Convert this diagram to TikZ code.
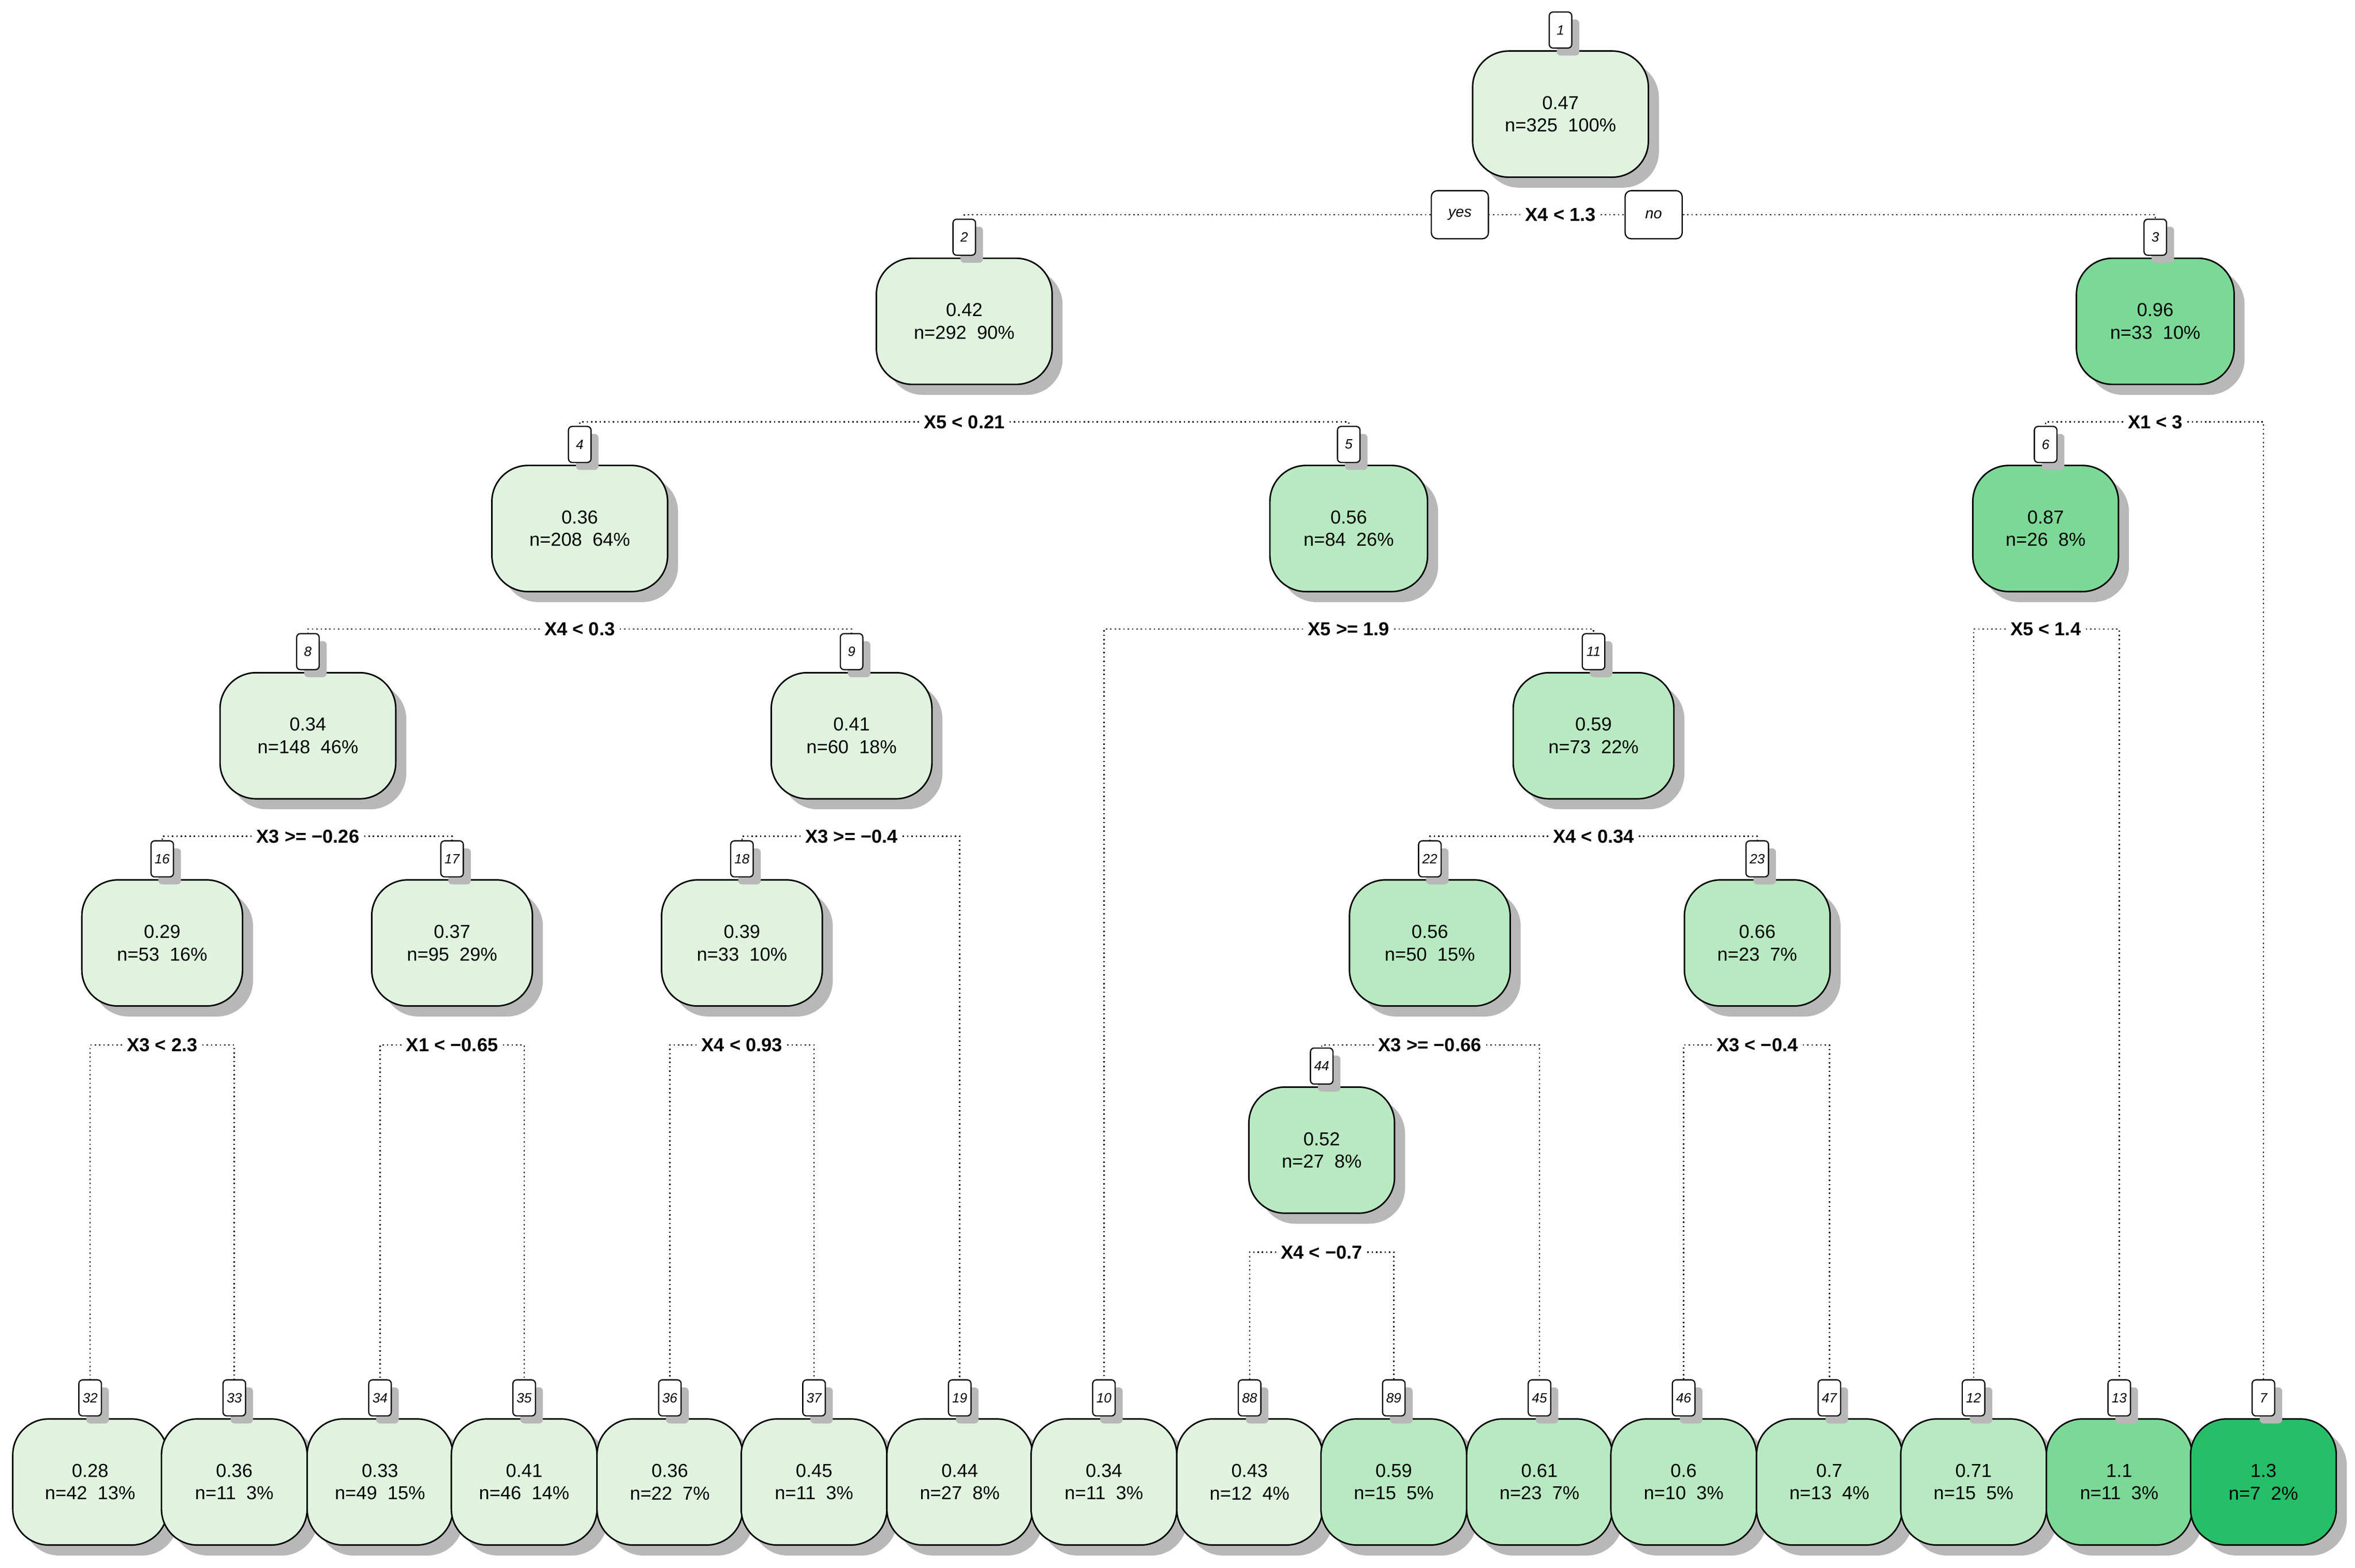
\documentclass[tikz,border=0pt]{standalone}
\usepackage{fontspec}
\setmainfont{Liberation Sans}
\usetikzlibrary{shadows}
\definecolor{ca}{RGB}{223,243,222}
\definecolor{cb}{RGB}{184,233,192}
\definecolor{cc}{RGB}{124,216,150}
\definecolor{cd}{RGB}{38,190,104}
\begin{document}
\begin{tikzpicture}[x=1pt,y=-1pt,
  box/.style={draw=black,line width=1pt,rounded corners=24pt,minimum height=84pt,inner sep=4pt,align=center,font=\fontsize{12.5}{15}\selectfont,drop shadow={shadow xshift=7pt,shadow yshift=-7pt,fill=black!28,opacity=1}},
  tag/.style={draw=black,fill=white,line width=0.8pt,rounded corners=2.5pt,minimum width=15pt,minimum height=24pt,inner sep=1pt,font=\fontsize{9}{10}\itshape\selectfont,drop shadow={shadow xshift=5pt,shadow yshift=-5pt,fill=black!28,opacity=1}},
  yn/.style={draw=black,fill=white,line width=0.8pt,rounded corners=4pt,minimum width=38pt,minimum height=32pt,inner sep=1pt,font=\fontsize{10}{12}\itshape\selectfont},
  split/.style={fill=white,inner sep=3pt,font=\fontsize{12.5}{15}\bfseries\selectfont},
  conn/.style={dotted,line width=0.9pt}]
\useasboundingbox (0,0) rectangle (1568,1044);
\newcommand{\tn}[7]{%
  \node[box,fill=#5,minimum width=#4pt] (n#1) at (#2,#3) {#6\\#7};
  \node[tag] (t#1) at (#2,#3-56) {#1};}
% internal nodes
\tn{1}{1039}{76}{117}{ca}{0.47}{n=325\ \ 100\%}
\tn{2}{642}{214}{117}{ca}{0.42}{n=292\ \ 90\%}
\tn{3}{1435}{214}{105}{cc}{0.96}{n=33\ \ 10\%}
\tn{4}{386}{352}{117}{ca}{0.36}{n=208\ \ 64\%}
\tn{5}{898}{352}{105}{cb}{0.56}{n=84\ \ 26\%}
\tn{6}{1362}{352}{97}{cc}{0.87}{n=26\ \ 8\%}
\tn{8}{205}{490}{117}{ca}{0.34}{n=148\ \ 46\%}
\tn{9}{567}{490}{107}{ca}{0.41}{n=60\ \ 18\%}
\tn{11}{1061}{490}{107}{cb}{0.59}{n=73\ \ 22\%}
\tn{16}{108}{628}{107}{ca}{0.29}{n=53\ \ 16\%}
\tn{17}{301}{628}{107}{ca}{0.37}{n=95\ \ 29\%}
\tn{18}{494}{628}{107}{ca}{0.39}{n=33\ \ 10\%}
\tn{22}{952}{628}{107}{cb}{0.56}{n=50\ \ 15\%}
\tn{23}{1170}{628}{97}{cb}{0.66}{n=23\ \ 7\%}
\tn{44}{880}{766}{97}{cb}{0.52}{n=27\ \ 8\%}
% leaves
\tn{32}{60}{987}{103}{ca}{0.28}{n=42\ \ 13\%}
\tn{33}{156}{987}{97}{ca}{0.36}{n=11\ \ 3\%}
\tn{34}{253}{987}{97}{ca}{0.33}{n=49\ \ 15\%}
\tn{35}{349}{987}{97}{ca}{0.41}{n=46\ \ 14\%}
\tn{36}{446}{987}{97}{ca}{0.36}{n=22\ \ 7\%}
\tn{37}{542}{987}{97}{ca}{0.45}{n=11\ \ 3\%}
\tn{19}{639}{987}{97}{ca}{0.44}{n=27\ \ 8\%}
\tn{10}{735}{987}{97}{ca}{0.34}{n=11\ \ 3\%}
\tn{88}{832}{987}{97}{ca}{0.43}{n=12\ \ 4\%}
\tn{89}{928}{987}{97}{cb}{0.59}{n=15\ \ 5\%}
\tn{45}{1025}{987}{97}{cb}{0.61}{n=23\ \ 7\%}
\tn{46}{1121}{987}{97}{cb}{0.6}{n=10\ \ 3\%}
\tn{47}{1218}{987}{97}{cb}{0.7}{n=13\ \ 4\%}
\tn{12}{1314}{987}{97}{cb}{0.71}{n=15\ \ 5\%}
\tn{13}{1411}{987}{97}{cc}{1.1}{n=11\ \ 3\%}
\tn{7}{1507}{987}{97}{cd}{1.3}{n=7\ \ 2\%}
% splits
\newcommand{\mysplit}[5]{%
  \node[split] (s#1) at (#2,#3) {#4};
  \draw[conn] (s#1.west) -| (t#5.north);}
\newcommand{\mysplitr}[2]{\draw[conn] (s#1.east) -| (t#2.north);}
\node[split] (s1) at (1039,143) {X4 < 1.3};
\node[yn] (yes) at (972,143) {yes};
\node[yn] (no) at (1101,143) {no};
\draw[conn] (s1.west) -- (yes.east);
\draw[conn] (s1.east) -- (no.west);
\draw[conn] (yes.west) -| (t2.north);
\draw[conn] (no.east) -| (t3.north);
\mysplit{2}{642}{281}{X5 < 0.21}{4}\mysplitr{2}{5}
\mysplit{3}{1435}{281}{X1 < 3}{6}\mysplitr{3}{7}
\mysplit{4}{386}{419}{X4 < 0.3}{8}\mysplitr{4}{9}
\mysplit{5}{898}{419}{X5 >= 1.9}{10}\mysplitr{5}{11}
\mysplit{6}{1362}{419}{X5 < 1.4}{12}\mysplitr{6}{13}
\mysplit{8}{205}{557}{X3 >= −0.26}{16}\mysplitr{8}{17}
\mysplit{9}{567}{557}{X3 >= −0.4}{18}\mysplitr{9}{19}
\mysplit{11}{1061}{557}{X4 < 0.34}{22}\mysplitr{11}{23}
\mysplit{16}{108}{696}{X3 < 2.3}{32}\mysplitr{16}{33}
\mysplit{17}{301}{696}{X1 < −0.65}{34}\mysplitr{17}{35}
\mysplit{18}{494}{696}{X4 < 0.93}{36}\mysplitr{18}{37}
\mysplit{22}{952}{696}{X3 >= −0.66}{44}\mysplitr{22}{45}
\mysplit{23}{1170}{696}{X3 < −0.4}{46}\mysplitr{23}{47}
\mysplit{44}{880}{834}{X4 < −0.7}{88}\mysplitr{44}{89}
\end{tikzpicture}
\end{document}
